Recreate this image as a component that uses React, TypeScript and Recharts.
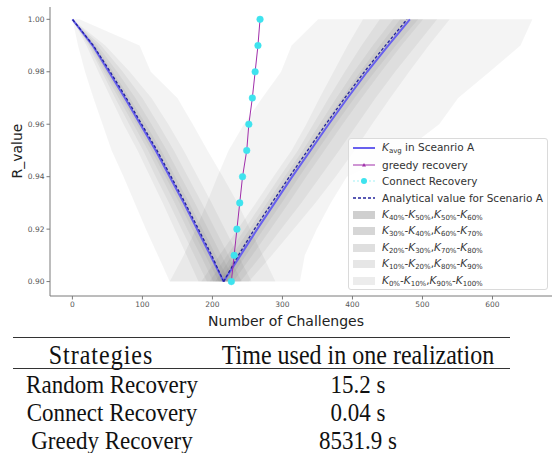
import React from "react";
import { ComposedChart, Line, Area, XAxis, YAxis } from "recharts";

// R levels (y) shared by every series
const rLevels = [0.9, 0.91, 0.92, 0.93, 0.94, 0.95, 0.96, 0.97, 0.98, 0.99, 1.0];

// number of challenges at each R level
const kAvgDown = [216, 197, 178, 159, 139, 119, 97, 75, 52, 29, 0];
const kAvgUp = [216, 240, 264, 289, 314, 340, 366, 393, 421, 451, 482];
const analyticDown = [216, 199, 180, 161, 141, 121, 99, 77, 54, 30, 0];
const analyticUp = [216, 237, 260, 285, 310, 336, 362, 389, 417, 447, 478];
const greedy = [227, 231, 235, 239, 243, 249, 252, 257, 261, 265, 268];
const connect = [227, 231, 235, 239, 243, 249, 252, 257, 261, 265, 268];

// percentile bands [low, high] on the falling side
const downK0 = [[139, 290], [122, 272], [105, 254], [89, 236], [73, 215], [56, 193], [43, 172], [30, 150], [18, 112], [8, 96], [0, 10]];
const downK10 = [[180, 256], [163, 237], [146, 218], [129, 199], [111, 179], [93, 159], [73, 137], [55, 113], [37, 82], [20, 47], [0, 0]];
const downK20 = [[192, 242], [174, 223], [156, 204], [138, 185], [119, 165], [101, 145], [81, 123], [61, 100], [42, 72], [23, 41], [0, 0]];
const downK30 = [[201, 232], [183, 213], [164, 194], [146, 175], [127, 155], [108, 135], [87, 113], [66, 90], [45, 64], [25, 36], [0, 0]];
const downK40 = [[209, 224], [190, 205], [171, 186], [153, 167], [133, 147], [113, 127], [92, 105], [70, 82], [48, 58], [27, 33], [0, 0]];

// percentile bands [low, high] on the rising side
const upK0 = [[139, 325], [159, 332], [176, 349], [192, 369], [207, 392], [223, 475], [245, 524], [271, 551], [298, 596], [313, 640], [351, 657]];
const upK10 = [[184, 252], [210, 285], [236, 316], [262, 347], [287, 376], [313, 403], [334, 428], [353, 454], [373, 481], [393, 509], [415, 539]];
const upK20 = [[196, 240], [221, 270], [246, 298], [271, 327], [296, 354], [322, 381], [344, 407], [366, 433], [389, 461], [413, 491], [439, 521]];
const upK30 = [[204, 230], [228, 257], [253, 283], [278, 309], [303, 334], [329, 360], [353, 386], [377, 413], [402, 441], [429, 470], [458, 501]];
const upK40 = [[210, 223], [234, 248], [258, 273], [283, 299], [308, 324], [334, 350], [359, 376], [385, 403], [411, 432], [439, 462], [468, 494]];

const xTicks = [0, 100, 200, 300, 400, 500, 600];
const yTicks = [0.9, 0.92, 0.94, 0.96, 0.98, 1.0];

const tableRows = [
    ["Random Recovery", "15.2 s"],
    ["Connect Recovery", "0.04 s"],
    ["Greedy Recovery", "8531.9 s"],
];

const data = rLevels.map((r, i) => ({
    r,
    kDown: kAvgDown[i],
    kUp: kAvgUp[i],
    aDown: analyticDown[i],
    aUp: analyticUp[i],
    greedy: greedy[i],
    connect: connect[i],
    d0: downK0[i],
    d10: downK10[i],
    d20: downK20[i],
    d30: downK30[i],
    d40: downK40[i],
    u0: upK0[i],
    u10: upK10[i],
    u20: upK20[i],
    u30: upK30[i],
    u40: upK40[i],
}));

const bandKeys = ["d0", "u0", "d10", "u10", "d20", "u20", "d30", "u30", "d40", "u40"];

const SANS = "'DejaVu Sans', sans-serif";
const SERIF = "'Liberation Serif', 'Times New Roman', serif";
const KAVG = "#6860ee";
const ANALYTIC = "#23239c";
const GREEDY = "#a02eaa";
const CONNECT = "#3ee3ee";
const AXIS = "#7a7a7a";

const XTitle = () => (
    <text x={286} y={326} textAnchor="middle" fontFamily={SANS} fontSize={14} fill="#222">
        Number of Challenges
    </text>
);

const YTitle = () => (
    <text x={22} y={151} textAnchor="middle" fontFamily={SANS} fontSize={14} fill="#222" transform="rotate(-90 22 151)">
        R_value
    </text>
);

const K = ({ s }: { s: string }) => (
    <>
        <i>K</i>
        <sub style={{ fontSize: 7, verticalAlign: "-2px" }}>{s}</sub>
    </>
);

const legendItems = [
    { kind: "line", label: <><K s="avg" /> in Sceanrio A</> },
    { kind: "greedy", label: <>greedy recovery</> },
    { kind: "connect", label: <>Connect Recovery</> },
    { kind: "dash", label: <>Analytical value for Scenario A</> },
    { kind: "#cfcfcf", label: <><K s="40%" />-<K s="50%" />,<K s="50%" />-<K s="60%" /></> },
    { kind: "#d6d6d6", label: <><K s="30%" />-<K s="40%" />,<K s="60%" />-<K s="70%" /></> },
    { kind: "#dfdfdf", label: <><K s="20%" />-<K s="30%" />,<K s="70%" />-<K s="80%" /></> },
    { kind: "#e6e6e6", label: <><K s="10%" />-<K s="20%" />,<K s="80%" />-<K s="90%" /></> },
    { kind: "#ececec", label: <><K s="0%" />-<K s="10%" />,<K s="90%" />-<K s="100%" /></> },
];

function Handle({ kind }: { kind: string }) {
    if (kind === "line")
        return <line x1={0} y1={5} x2={22} y2={5} stroke={KAVG} strokeWidth={2} />;
    if (kind === "greedy")
        return (
            <>
                <line x1={0} y1={5} x2={22} y2={5} stroke={GREEDY} strokeWidth={1} />
                <path d="M11 3 L13 6.5 L9 6.5 Z" fill={GREEDY} />
            </>
        );
    if (kind === "connect")
        return (
            <>
                <line x1={0} y1={5} x2={22} y2={5} stroke={CONNECT} strokeWidth={0.8} strokeDasharray="2 2" opacity={0.6} />
                <circle cx={11} cy={5} r={3} fill={CONNECT} />
            </>
        );
    if (kind === "dash")
        return <line x1={0} y1={5} x2={22} y2={5} stroke={ANALYTIC} strokeWidth={1.3} strokeDasharray="3 2" />;
    return <rect x={0} y={1} width={22} height={8} fill={kind} />;
}

function ChartLegend() {
    return (
        <div
            style={{
                position: "absolute",
                left: 348,
                top: 138,
                width: 200,
                height: 152,
                boxSizing: "border-box",
                border: "1px solid #dadada",
                borderRadius: 3,
                background: "rgba(255,255,255,0.85)",
                fontFamily: SANS,
                fontSize: 10.5,
                color: "#333",
                paddingTop: 1,
            }}
        >
            {legendItems.map((it, i) => (
                <div key={i} style={{ height: 16.6, display: "flex", alignItems: "center", whiteSpace: "nowrap" }}>
                    <svg width={22} height={10} style={{ marginLeft: 4, marginRight: 7, flex: "none" }}>
                        <Handle kind={it.kind} />
                    </svg>
                    <span>{it.label}</span>
                </div>
            ))}
        </div>
    );
}

const cell: React.CSSProperties = {
    position: "absolute",
    textAlign: "center",
    fontFamily: SERIF,
    lineHeight: "24px",
    color: "#111",
    transform: "scaleY(1.1)",
};

export default function App() {
    return (
        <div style={{ position: "absolute", left: 0, top: 0, width: 552, height: 453, background: "#fff", overflow: "hidden" }}>
            <ComposedChart
                width={552}
                height={330}
                data={data}
                layout="vertical"
                margin={{ top: 7, right: 0, bottom: 0, left: 0 }}
            >
                <XAxis
                    type="number"
                    domain={[-32, 685]}
                    ticks={xTicks}
                    allowDataOverflow
                    height={34}
                    tickSize={3.5}
                    tickMargin={2}
                    stroke={AXIS}
                    tick={{ fontSize: 7.5, fill: "#555", fontFamily: SANS }}
                    label={<XTitle />}
                />
                <XAxis xAxisId="top" orientation="top" type="number" domain={[-32, 685]} height={0} tick={false} tickLine={false} stroke={AXIS} />
                <YAxis
                    type="number"
                    dataKey="r"
                    domain={[0.8945, 1.0047]}
                    ticks={yTicks}
                    reversed
                    allowDataOverflow
                    width={50}
                    tickSize={3.5}
                    tickMargin={2}
                    stroke={AXIS}
                    tick={{ fontSize: 7.5, fill: "#555", fontFamily: SANS }}
                    tickFormatter={(v: number) => v.toFixed(2)}
                    label={<YTitle />}
                />

                {bandKeys.map((k) => (
                    <Area
                        key={k}
                        dataKey={k}
                        type="linear"
                        fill="#000"
                        fillOpacity={0.045}
                        stroke="none"
                        dot={false}
                        activeDot={false}
                        isAnimationActive={false}
                    />
                ))}

                <Line dataKey="kDown" type="linear" stroke={KAVG} strokeWidth={2} dot={false} isAnimationActive={false} />
                <Line dataKey="kUp" type="linear" stroke={KAVG} strokeWidth={2} dot={false} isAnimationActive={false} />
                <Line dataKey="aDown" type="linear" stroke={ANALYTIC} strokeWidth={1.3} strokeDasharray="3 2" dot={false} isAnimationActive={false} />
                <Line dataKey="aUp" type="linear" stroke={ANALYTIC} strokeWidth={1.3} strokeDasharray="3 2" dot={false} isAnimationActive={false} />
                <Line dataKey="greedy" type="linear" stroke={GREEDY} strokeWidth={1} dot={false} isAnimationActive={false} />
                <Line
                    dataKey="connect"
                    type="linear"
                    stroke="none"
                    dot={{ r: 3.3, fill: CONNECT, stroke: CONNECT, strokeWidth: 0.5 }}
                    isAnimationActive={false}
                />
            </ComposedChart>

            <ChartLegend />

            <div style={{ position: "absolute", left: 13, top: 337, width: 497, height: 1.3, background: "#333" }} />
            <div style={{ position: "absolute", left: 13, top: 368, width: 497, height: 1.3, background: "#333" }} />
            <div style={{ ...cell, top: 343, left: 0, width: 202, fontSize: 24, letterSpacing: 1 }}>Strategies</div>
            <div style={{ ...cell, top: 343, left: 208, width: 300, fontSize: 24 }}>Time used in one realization</div>
            {tableRows.map(([name, time], i) => (
                <React.Fragment key={name}>
                    <div style={{ ...cell, top: 373 + i * 28, left: 12, width: 200, fontSize: 23 }}>{name}</div>
                    <div style={{ ...cell, top: 373 + i * 28, left: 208, width: 300, fontSize: 23 }}>{time}</div>
                </React.Fragment>
            ))}
        </div>
    );
}
